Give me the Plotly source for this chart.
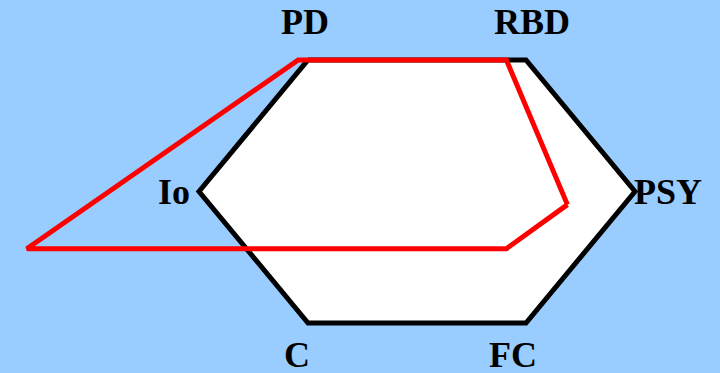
import plotly.graph_objects as go

# Hexagon frame: one vertex per axis, in diagram units
axes = ["PD", "RBD", "PSY", "FC", "C", "Io"]
hex_x = [-1, 1, 2, 1, -1, -2]
hex_y = [1, 1, 0, -1, -1, 0]

# Red profile (closed outline)
profile_x = [1.38, 0.82, -3.58, -1.09, 0.82, 1.38]
profile_y = [-0.10, -0.435, -0.435, 1.0, 1.0, -0.10]

# Label anchors
label_x = [-1.03, 1.055, 1.97, 0.88, -1.1, -2.06]
label_y = [1.29, 1.29, 0.0, -1.243, -1.243, 0.0]
label_anchor = ["center", "center", "left", "center", "center", "right"]

BG = "#99CCFF"
FONT = "Liberation Serif, Times New Roman, serif"

fig = go.Figure()

fig.add_trace(go.Scatter(
    x=hex_x + hex_x[:1],
    y=hex_y + hex_y[:1],
    mode="lines",
    fill="toself",
    fillcolor="white",
    line=dict(color="black", width=5),
    hoverinfo="skip",
    showlegend=False,
))

fig.add_trace(go.Scatter(
    x=profile_x,
    y=profile_y,
    mode="lines",
    line=dict(color="#FF0000", width=5),
    hoverinfo="skip",
    showlegend=False,
))

for name, x, y, anchor in zip(axes, label_x, label_y, label_anchor):
    fig.add_annotation(
        x=x, y=y, text=f"<b>{name}</b>", showarrow=False,
        xanchor=anchor, yanchor="middle",
        font=dict(family=FONT, size=36, color="black"),
    )

fig.update_xaxes(range=[-3.826, 2.78], visible=False, fixedrange=True)
fig.update_yaxes(range=[-1.380, 1.456], visible=False, fixedrange=True)

fig.update_layout(
    width=720,
    height=373,
    margin=dict(l=0, r=0, t=0, b=0),
    paper_bgcolor=BG,
    plot_bgcolor=BG,
)

# drop the browser's default body margin so the chart fills the window
fig.write_html("out.html", config={"displayModeBar": False},
               post_script="document.body.style.margin='0';")
